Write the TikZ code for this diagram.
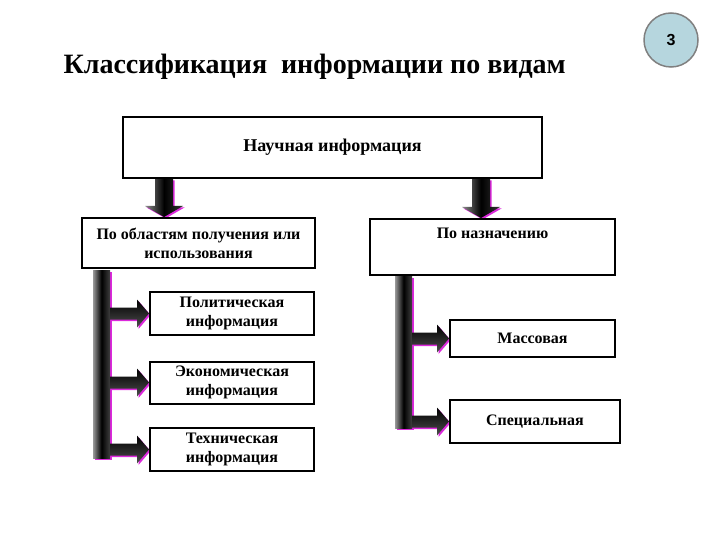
\documentclass[tikz,border=0pt]{standalone}
\usepackage{fontspec}
\setmainfont{Liberation Serif}
\setsansfont{Liberation Sans}
\usetikzlibrary{positioning,calc,shadows,backgrounds}
\definecolor{rimblue}{RGB}{182,214,222}
\definecolor{glow}{RGB}{220,40,220}
\begin{document}
\begin{tikzpicture}[x=1pt,y=-1pt,
    box/.style={draw,line width=2pt,fill=white,inner sep=2pt,align=center,
      font=\bfseries\fontsize{16}{19}\selectfont},
    vbar/.style={shade,left color=gray!80,right color=gray!50!black,middle color=black,
      minimum width=17,inner sep=0pt,
      drop shadow={shadow xshift=1.5pt,shadow yshift=-1.5pt,fill=glow,opacity=1}},
    varrow/.style={left color=gray!90,right color=gray!40!black,middle color=black,
      drop shadow={shadow xshift=1.5pt,shadow yshift=-1.5pt,fill=glow,opacity=1}},
    harrow/.style={top color=black,bottom color=gray!60!black,
      drop shadow={shadow xshift=1.5pt,shadow yshift=-1.5pt,fill=glow,opacity=1}}]
  \useasboundingbox (0,0) rectangle (720,540);
  % title and page number
  \node[anchor=west,font=\bfseries\fontsize{28}{32}\selectfont] (title) at (60,67)
    {Классификация\ \ информации по видам};
  \node[circle,draw=gray,line width=1.5pt,fill=rimblue,minimum size=54,
    font=\sffamily\bfseries\fontsize{16}{18}\selectfont] (pagenum) at (671,40) {3};
  % boxes
  \node[box,minimum width=419,minimum height=61,font=\bfseries\fontsize{18}{20}\selectfont]
    (sci) at (332.5,147.5) {Научная информация};
  \node[box,minimum width=233,minimum height=50] (obl) at (198.5,243)
    {По областям получения или\\использования};
  \node[box,minimum width=245,anchor=north,inner ysep=8pt,text height=11pt,text depth=29pt]
    (nazn) at (492.5,218) {По назначению};
  \node[box,minimum width=164,minimum height=43] (pol) at (232,313.5) {Политическая\\информация};
  \node[box,minimum width=164,minimum height=42] (eco) at (232,382.5) {Экономическая\\информация};
  \node[box,minimum width=164,minimum height=43] (tech) at (232,449.5) {Техническая\\информация};
  \node[box,minimum width=165,minimum height=37] (mass) at (532.5,338.5) {Массовая};
  \node[box,minimum width=170,minimum height=43] (spec) at (535,421.5) {Специальная};
  % bars and arrows behind the boxes
  \begin{scope}[on background layer]
    \node[vbar,minimum height=188] (lbar) at (101.5,364) {};
    \node[vbar,minimum height=152] (rbar) at (403.5,352) {};
    \coordinate (d1) at (164,0);
    \coordinate (d2) at (481,0);
    \foreach \c/\t in {d1/obl,d2/nazn}
      \shade[varrow] ($(sci.south -| \c)+(-9,0)$) -- ($(\t.north -| \c)+(-9,-11)$) -- ++(-10,0)
        -- (\t.north -| \c) -- ++(19,-11) -- ++(-10,0) -- ($(sci.south -| \c)+(9,0)$) -- cycle;
    \foreach \s/\b in {lbar/pol,lbar/eco,lbar/tech,rbar/mass,rbar/spec}
      \shade[harrow] ($(\s.east |- \b.west)+(0,-6)$) -- ($(\b.west)+(-12,-6)$) -- ++(0,-8)
        -- (\b.west) -- ++(-12,14) -- ++(0,-8) -- ($(\s.east |- \b.west)+(0,6)$) -- cycle;
  \end{scope}
\end{tikzpicture}
\end{document}
